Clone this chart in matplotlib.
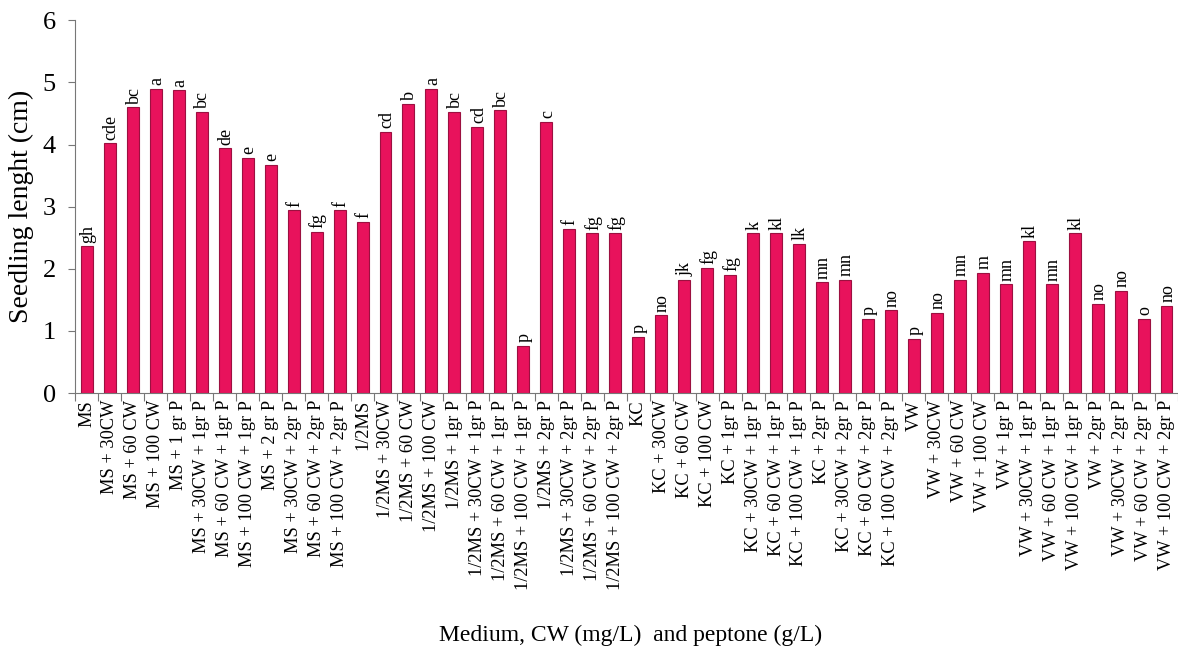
import numpy as np
import matplotlib.pyplot as plt

plt.rcParams['font.family'] = ['Liberation Serif', 'DejaVu Serif']

labels = [
    "MS", "MS + 30CW", "MS + 60 CW", "MS + 100 CW", "MS + 1 gr P",
    "MS + 30CW + 1gr P", "MS + 60 CW + 1gr P", "MS + 100 CW + 1gr P",
    "MS + 2 gr P", "MS + 30CW + 2gr P", "MS + 60 CW + 2gr P", "MS + 100 CW + 2gr P",
    "1/2MS", "1/2MS + 30CW", "1/2MS + 60 CW", "1/2MS + 100 CW", "1/2MS + 1gr P",
    "1/2MS + 30CW + 1gr P", "1/2MS + 60 CW + 1gr P", "1/2MS + 100 CW + 1gr P",
    "1/2MS + 2gr P", "1/2MS + 30CW + 2gr P", "1/2MS + 60 CW + 2gr P", "1/2MS + 100 CW + 2gr P",
    "KC", "KC + 30CW", "KC + 60 CW", "KC + 100 CW", "KC + 1gr P",
    "KC + 30CW + 1gr P", "KC + 60 CW + 1gr P", "KC + 100 CW + 1gr P",
    "KC + 2gr P", "KC + 30CW + 2gr P", "KC + 60 CW + 2gr P", "KC + 100 CW + 2gr P",
    "VW", "VW + 30CW", "VW + 60 CW", "VW + 100 CW", "VW + 1gr P",
    "VW + 30CW + 1gr P", "VW + 60 CW + 1gr P", "VW + 100 CW + 1gr P",
    "VW + 2gr P", "VW + 30CW + 2gr P", "VW + 60 CW + 2gr P", "VW + 100 CW + 2gr P",
]

length = [
    2.36, 4.02, 4.60, 4.90, 4.87, 4.53, 3.94, 3.78, 3.67, 2.94, 2.59, 2.94,
    2.75, 4.20, 4.65, 4.90, 4.52, 4.28, 4.55, 0.76, 4.37, 2.64, 2.57, 2.57,
    0.90, 1.25, 1.82, 2.01, 1.90, 2.57, 2.57, 2.40, 1.78, 1.82, 1.19, 1.33,
    0.87, 1.29, 1.82, 1.93, 1.75, 2.44, 1.75, 2.57, 1.43, 1.64, 1.19, 1.40,
]

letters = [
    "gh", "cde", "bc", "a", "a", "bc", "de", "e", "e", "f", "fg", "f",
    "f", "cd", "b", "a", "bc", "cd", "bc", "p", "c", "f", "fg", "fg",
    "p", "no", "jk", "fg", "fg", "k", "kl", "lk", "mn", "mn", "p", "no",
    "p", "no", "mn", "m", "mn", "kl", "mn", "kl", "no", "no", "o", "no",
]

fig = plt.figure(figsize=(11.78, 6.54), dpi=100)
ax = fig.add_axes([0.064, 0.399, 0.936, 0.570])

x = np.arange(len(length))
ax.bar(x, length, width=0.52, color='#e8125c', edgecolor='#9c1040', linewidth=0.8)

for xi, v, t in zip(x, length, letters):
    ax.text(xi + 0.05, v + 0.06, t, rotation=90, ha='center', va='bottom', fontsize=13)

ax.set_xlim(-0.5, len(length) - 0.5)
ax.set_ylim(0, 6)
ax.set_yticks(range(0, 7))
ax.tick_params(axis='y', labelsize=19, length=5, pad=9, color='#777777')

ax.set_xticks(np.arange(-0.5, len(length), 1.0), minor=False)
ax.set_xticklabels([])
ax.set_xticks(x, minor=True)
ax.set_xticklabels(labels, minor=True, rotation=90, fontsize=13.2)
ax.tick_params(axis='x', which='major', length=6, color='#777777')
ax.tick_params(axis='x', which='minor', length=0, pad=5)

for s in ['top', 'right']:
    ax.spines[s].set_visible(False)
ax.spines['left'].set_color('#777777')
ax.spines['bottom'].set_color('#777777')

ax.set_ylabel("Seedling lenght (cm)", fontsize=20, labelpad=6)
fig.text(0.535, 0.012, "Medium, CW (mg/L)  and peptone (g/L)", ha='center', va='bottom', fontsize=17)

fig.savefig("out.png", dpi=100)
